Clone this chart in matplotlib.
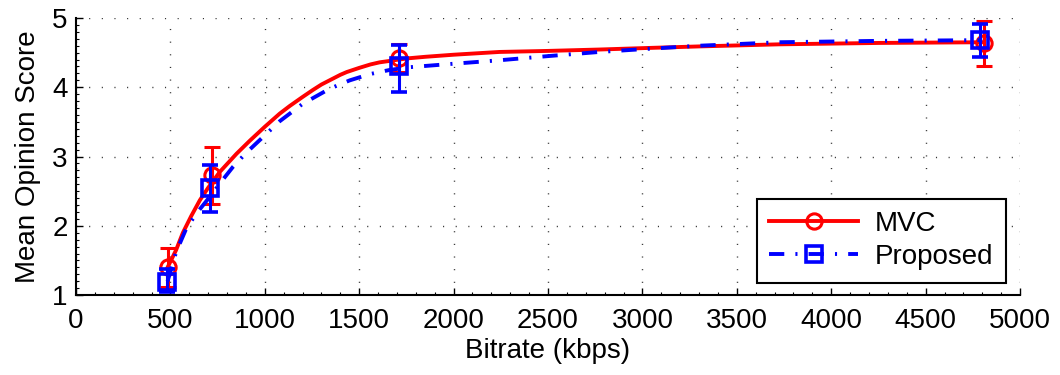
import matplotlib
matplotlib.use("Agg")
import matplotlib.pyplot as plt
from matplotlib.lines import Line2D
from matplotlib.ticker import MultipleLocator

plt.rcParams['font.family'] = ['Liberation Sans', 'DejaVu Sans']
plt.rcParams['lines.scale_dashes'] = False

# measured points (bitrate in kbps)
mvc_x = [485, 718, 1709, 4810]
mvc_mos = [1.40, 2.73, 4.42, 4.64]
mvc_lo = [1.12, 2.31, 4.22, 4.31]
mvc_hi = [1.68, 3.14, 4.62, 4.96]

prop_x = [482, 710, 1709, 4790]
prop_mos = [1.19, 2.55, 4.30, 4.68]
prop_lo = [1.04, 2.20, 3.93, 4.44]
prop_hi = [1.37, 2.88, 4.61, 4.91]

# fitted curves
mvc_curve_x = [485, 530, 566, 610, 656, 700, 762, 850, 921, 1000, 1079, 1132,
               1200, 1254, 1300, 1350, 1400, 1434, 1500, 1560, 1608, 1660,
               1709, 1767, 1850, 2000, 2243, 2500, 2772, 3000, 3302, 3725,
               4254, 4800]
mvc_curve_y = [1.40, 1.65, 1.90, 2.14, 2.37, 2.55, 2.78, 3.04, 3.23, 3.43,
               3.62, 3.73, 3.86, 3.96, 4.04, 4.11, 4.18, 4.22, 4.28, 4.33,
               4.36, 4.38, 4.40, 4.42, 4.44, 4.47, 4.51, 4.525, 4.545, 4.565,
               4.59, 4.62, 4.64, 4.65]

prop_curve_x = [485, 530, 587, 650, 709, 770, 831, 900, 974, 1079, 1200, 1344,
                1450, 1556, 1661, 1767, 2000, 2243, 2500, 2772, 3000, 3302,
                3725, 4254, 4800]
prop_curve_y = [1.20, 1.62, 1.98, 2.22, 2.42, 2.64, 2.85, 3.05, 3.24, 3.51,
                3.76, 3.98, 4.10, 4.19, 4.25, 4.29, 4.34, 4.39, 4.45, 4.51,
                4.55, 4.60, 4.65, 4.67, 4.68]

red = '#ff0000'
blue = '#0000ff'
dashdot = (0, (11, 8, 1.5, 8))

fig = plt.figure(figsize=(10.6, 3.75), dpi=100)
ax = fig.add_axes([0.0717, 0.213, 0.8906, 0.739])

ax.plot(mvc_curve_x, mvc_curve_y, color=red, lw=2.8, zorder=3)
ax.errorbar(mvc_x, mvc_mos,
            yerr=[[m - l for m, l in zip(mvc_mos, mvc_lo)],
                  [h - m for m, h in zip(mvc_mos, mvc_hi)]],
            fmt='o', color=red, mfc='none', mec=red, ms=11, mew=2.2,
            elinewidth=2.2, capsize=6, capthick=2.2, zorder=4)

ax.plot(prop_curve_x, prop_curve_y, color=blue, lw=2.8, linestyle=dashdot,
        zorder=5)
ax.errorbar(prop_x, prop_mos,
            yerr=[[m - l for m, l in zip(prop_mos, prop_lo)],
                  [h - m for m, h in zip(prop_mos, prop_hi)]],
            fmt='s', color=blue, mfc='none', mec=blue, ms=11, mew=2.6,
            elinewidth=2.2, capsize=6, capthick=2.2, zorder=6)

ax.set_xlim(0, 5000)
ax.set_ylim(1, 5)
ax.xaxis.set_major_locator(MultipleLocator(500))
ax.xaxis.set_minor_locator(MultipleLocator(100))
ax.yaxis.set_major_locator(MultipleLocator(1))
ax.yaxis.set_minor_locator(MultipleLocator(0.1))
ax.tick_params(which='major', direction='in', length=5, width=1.0,
               labelsize=20)
ax.tick_params(axis='x', which='major', pad=9)
ax.tick_params(axis='y', which='major', pad=6)
ax.tick_params(which='minor', direction='in', length=2.5, width=0.8)
ax.tick_params(top=False, right=False, which='both')

ax.grid(True, which='major', color='#333333', linestyle=(0, (0.8, 8.3)),
        linewidth=1.0)
for s in ['top', 'right']:
    ax.spines[s].set_visible(False)
for s in ['left', 'bottom']:
    ax.spines[s].set_linewidth(1.5)

ax.set_xlabel('Bitrate (kbps)', fontsize=20, labelpad=3)
ax.set_ylabel('Mean Opinion Score', fontsize=20, labelpad=8)

handles = [
    Line2D([], [], color=red, lw=2.8, marker='o', ms=11, mfc='none',
           mec=red, mew=2.2),
    Line2D([], [], color=blue, lw=2.8, linestyle=dashdot, marker='s', ms=11,
           mfc='none', mec=blue, mew=2.6),
]
leg = ax.legend(handles, ['MVC', 'Proposed'], loc='lower right',
                bbox_to_anchor=(0.985, 0.045), fontsize=20, handlelength=3.2,
                fancybox=False, framealpha=1, edgecolor='black',
                borderpad=0.45, labelspacing=0.25, handletextpad=0.6,
                borderaxespad=0)
leg.get_frame().set_linewidth(1.5)
leg.set_zorder(10)

fig.savefig('out.png', dpi=100)
